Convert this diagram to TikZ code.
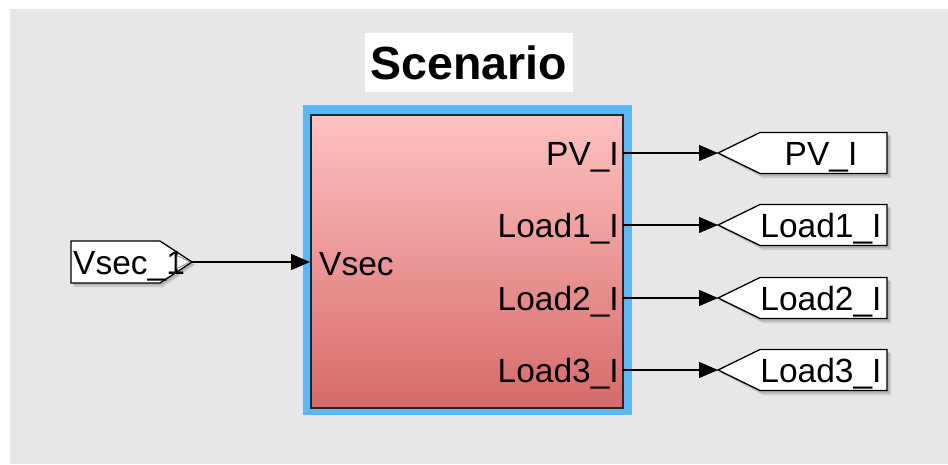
\documentclass[tikz,border=0pt]{standalone}
\usepackage{fontspec}
\setmainfont{Liberation Sans}
\usetikzlibrary{arrows.meta}
\definecolor{canvas}{HTML}{E7E7E7}
\definecolor{selblue}{HTML}{5DB7F2}
\definecolor{blocktop}{HTML}{FFC2C2}
\definecolor{blockbot}{HTML}{D66A6A}
\tikzset{
  lbl/.style={inner sep=0pt, font=\fontsize{33.5}{38}\selectfont},
  signal/.style={line width=1.2pt, -{Triangle[length=19pt,width=16pt]}},
  tagshape/.style={draw=black, line width=1.3pt, fill=white},
  tagshadow/.style={fill=black, opacity=0.12},
}
% Goto tag pointing left: #1 = tip coordinate name, #2 = y, #3 = label
\newcommand{\gototag}[3]{%
  \coordinate (#1) at (718,#2);
  \fill[tagshadow] (721,#2+3) -- (763,#2-17.5) -- (891,#2-17.5) -- (891,#2+25) -- (763,#2+25) -- cycle;
  \fill[tagshadow] (720,#2+2) -- (762,#2-18.5) -- (889,#2-18.5) -- (889,#2+23) -- (762,#2+23) -- cycle;
  \draw[tagshape] (#1) -- (760,#2-20.5) -- (887,#2-20.5) -- (887,#2+20.5) -- (760,#2+20.5) -- cycle;
  \node[lbl, anchor=base] (#1txt) at (821,#2+12) {#3};
}
\begin{document}
\begin{tikzpicture}[x=1pt,y=-1pt]
\useasboundingbox (0,0) rectangle (948,464);
\fill[white] (0,0) rectangle (948,464);
\fill[canvas] (10,9) rectangle (948,464);

% block title
\node[fill=white, minimum width=208pt, minimum height=59pt, inner sep=0pt,
      font=\fontsize{46.5}{52}\selectfont\bfseries] (title) at (469,62.5) {Scenario};

% subsystem block with selection highlight
\fill[selblue] (303,105) rectangle (632,415);
\node[draw=black!85, line width=1.6pt, minimum width=312pt, minimum height=293pt,
      top color=blocktop, bottom color=blockbot, inner sep=0pt] (scen) at (467,261.5) {};

% port labels inside the block
\node[lbl, anchor=base west] (inVsec) at (319,275) {Vsec};
\node[lbl, anchor=base east] (outPV) at (619,165) {PV\_I};
\node[lbl, anchor=base east] (outL1) at (619,237) {Load1\_I};
\node[lbl, anchor=base east] (outL2) at (619,310) {Load2\_I};
\node[lbl, anchor=base east] (outL3) at (619,382) {Load3\_I};

\coordinate (pPV) at (623,153);
\coordinate (pL1) at (623,225);
\coordinate (pL2) at (623,298);
\coordinate (pL3) at (623,370);
\coordinate (pIn) at (310,262);

% From block on the left
\fill[tagshadow] (74,244) -- (163,244) -- (195,265) -- (163,287) -- (74,287) -- cycle;
\fill[tagshadow] (73,243) -- (162,243) -- (194,264) -- (162,285) -- (73,285) -- cycle;
\draw[tagshape] (71,241) -- (160,241) -- (192,262) -- (160,283) -- (71,283) -- cycle;
\node[lbl, anchor=base west] (fromtxt) at (73,274) {Vsec\_1};
\draw[draw=black!45, fill=white, line width=0.8pt] (177,255.5) -- (190,262) -- (177,268.5) -- cycle;
\coordinate (fromtip) at (192,262);

% Goto tags on the right
\gototag{gPV}{153}{PV\_I}
\gototag{gL1}{225}{Load1\_I}
\gototag{gL2}{298}{Load2\_I}
\gototag{gL3}{370}{Load3\_I}

% signal lines
\draw[signal] (fromtip) -- (pIn);
\draw[signal] (pPV) -- (gPV);
\draw[signal] (pL1) -- (gL1);
\draw[signal] (pL2) -- (gL2);
\draw[signal] (pL3) -- (gL3);
\end{tikzpicture}
\end{document}
